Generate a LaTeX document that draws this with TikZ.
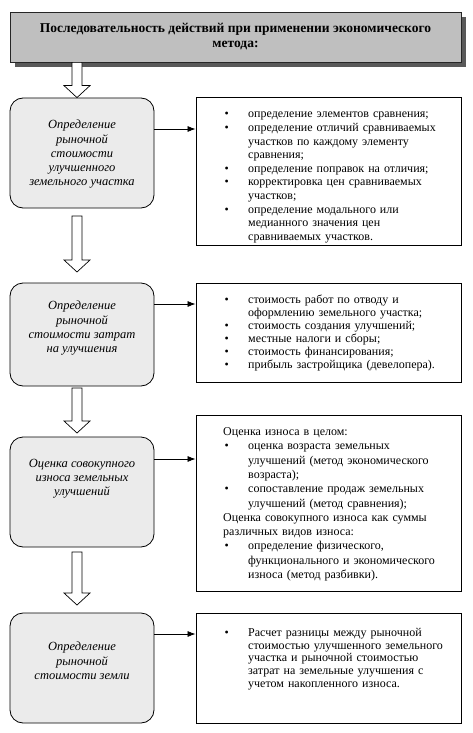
\documentclass[tikz,border=0pt]{standalone}
\usepackage{fontspec}
\setmainfont{Liberation Serif}
\usetikzlibrary{calc, arrows.meta, shadows}

\tikzset{
  titlebox/.style={draw=black!85, line width=0.8pt, fill=black!25, minimum width=451pt, minimum height=50pt,
    align=center, font=\fontsize{13.5}{15}\selectfont\bfseries,
    general shadow={fill=black!65, shadow xshift=5pt, shadow yshift=-5pt}},
  stagebox/.style={draw, line width=0.8pt, fill=black!8, rounded corners=13pt, minimum width=144pt},
  stagetext/.style={align=center, inner sep=0pt, anchor=north, font=\fontsize{12.5}{14.2}\selectfont\itshape},
  listbox/.style={draw, line width=0.9pt, minimum width=265pt},
  listtext/.style={text width=240pt, inner sep=0pt, anchor=north west, font=\fontsize{12}{#1}\selectfont},
  link/.style={-{Latex[length=8pt,width=6pt]}, line width=0.7pt},
  hollow/.style={draw, fill=white, line width=0.7pt}
}

% bullet line and plain line of a list
\newcommand\bitem[1]{\par\noindent\hangindent=25pt\hangafter=1
  \makebox[25pt][l]{\hspace{1.5pt}\textbullet}{\let\\\newline #1}\par}
\newcommand\lhead[1]{\par\noindent{\let\\\newline #1}\par}
% hollow block arrow pointing down
\newcommand\blockarrow[2]{%
  \path[hollow] let \p1=(#1), \p2=(#2) in
    (\x1-5pt,\y1) -- (\x1+5pt,\y1) -- (\x1+5pt,\y2+12pt) -- (\x1+13pt,\y2+12pt)
    -- (\x1,\y2) -- (\x1-13pt,\y2+12pt) -- (\x1-5pt,\y2+12pt) -- cycle;}

\begin{document}
\begin{tikzpicture}[x=1pt, y=-1pt]
    \useasboundingbox (0,0) rectangle (473,733);

    \node[titlebox] (title) at (235.5,37) {Последовательность действий при применении экономического\\метода:};

    % stages
    \node[stagebox, minimum height=110pt] (s1) at (82,153) {};
    \node[stagebox, minimum height=103pt] (s2) at (82,334.5) {};
    \node[stagebox, minimum height=110pt] (s3) at (82,492) {};
    \node[stagebox, minimum height=110pt] (s4) at (82,668) {};

    \node[stagetext] (s1t) at (82,120) {Определение\\рыночной\\стоимости\\улучшенного\\земельного участка};
    \node[stagetext] (s2t) at (82,301) {Определение\\рыночной\\стоимости затрат\\на улучшения};
    \node[stagetext] (s3t) at (82,459) {Оценка совокупного\\износа земельных\\улучшений};
    \node[stagetext] (s4t) at (82,642) {Определение\\рыночной\\стоимости земли};

    % lists
    \node[listbox, minimum height=148pt] (r1) at (328.5,171) {};
    \node[listbox, minimum height=99pt] (r2) at (328.5,332.5) {};
    \node[listbox, minimum height=176pt] (r3) at (328.5,503) {};
    \node[listbox, minimum height=110pt] (r4) at (328.5,668) {};

    \node[listtext=13.6pt] (r1t) at (223,104) {%
      \bitem{определение элементов сравнения;}
      \bitem{определение отличий сравниваемых\\участков по каждому элементу\\сравнения;}
      \bitem{определение поправок на отличия;}
      \bitem{корректировка цен сравниваемых\\участков;}
      \bitem{определение модального или\\медианного значения цен\\сравниваемых участков.}};
    \node[listtext=13pt] (r2t) at (223,290) {%
      \bitem{стоимость работ по отводу и\\оформлению земельного участка;}
      \bitem{стоимость создания улучшений;}
      \bitem{местные налоги и сборы;}
      \bitem{стоимость финансирования;}
      \bitem{прибыль застройщика (девелопера).}};
    \node[listtext=14.3pt] (r3t) at (223,421) {%
      \lhead{Оценка износа в целом:}
      \bitem{оценка возраста земельных\\улучшений (метод экономического\\возраста);}
      \bitem{сопоставление продаж земельных\\улучшений (метод сравнения);}
      \lhead{Оценка совокупного износа как суммы\\различных видов износа:}
      \bitem{определение физического,\\функционального и экономического\\износа (метод разбивки).}};
    \node[listtext=12.9pt] (r4t) at (223,623) {%
      \bitem{Расчет разницы между рыночной\\стоимостью улучшенного земельного\\участка и рыночной стоимостью\\затрат на земельные улучшения с\\учетом накопленного износа.}};

    % links
    \draw[link] (s1.east |- 0,129) -- (r1.west |- 0,129);
    \draw[link] (s2.east |- 0,304) -- (r2.west |- 0,304);
    \draw[link] (s3.east |- 0,459) -- (r3.west |- 0,459);
    \draw[link] (s4.east |- 0,634) -- (r4.west |- 0,634);

    % block arrows
    \coordinate (ax) at (77,0);
    \coordinate (a2s) at (77,216);
    \coordinate (a2e) at (77,272);
    \coordinate (a3s) at (77,388);
    \coordinate (a3e) at (77,433);
    \coordinate (a4s) at (77,552);
    \coordinate (a4e) at (77,605);
    \blockarrow{title.south -| ax}{s1.north -| ax}
    \blockarrow{a2s}{a2e}
    \blockarrow{a3s}{a3e}
    \blockarrow{a4s}{a4e}
\end{tikzpicture}
\end{document}
